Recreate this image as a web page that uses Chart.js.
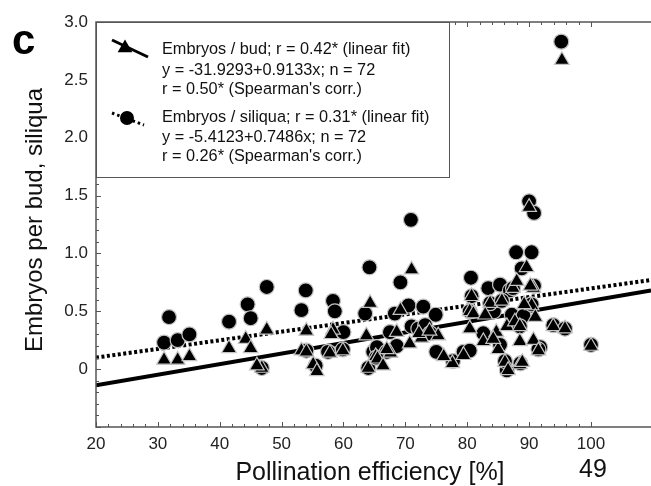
<!DOCTYPE html>
<html>
<head>
<meta charset="utf-8">
<script src="https://cdn.jsdelivr.net/npm/chart.js@4.4.1/dist/chart.umd.min.js"></script>
<style>
  html, body { margin: 0; padding: 0; background: #fff; }
</style>
</head>
<body>
<canvas id="chart" width="651" height="486"></canvas>
<script>
/* Embryos per bud / siliqua vs pollination efficiency (panel c) */

const X_TICKS = [20, 30, 40, 50, 60, 70, 80, 90, 100];
const Y_TICKS = [-0.5, 0, 0.5, 1.0, 1.5, 2.0, 2.5, 3.0];

// embryos per bud (triangles)
const BUD_X = [31.0, 33.2, 35.1, 41.5, 44.2, 45.0, 46.8, 47.6, 54.0, 53.2, 54.0, 55.1, 55.7, 57.8, 58.3,
  59.9, 64.3, 63.7, 65.2, 64.0, 65.5, 67.6, 68.6, 69.2, 71.0, 70.7, 72.6, 75.3, 77.6, 79.4,
  80.7, 80.4, 80.4, 82.6, 83.7, 85.6, 84.7, 86.4, 85.0, 86.1, 86.6, 87.4, 88.0, 87.7, 88.5,
  88.5, 88.5, 89.6, 90.0, 90.7, 90.4, 90.7, 91.5, 93.9, 95.8, 100.0, 95.3,
  72.2, 73.9, 66.4, 81.0, 82.9, 84.2, 89.2, 90.2, 88.9, 76.2, 58.0, 46.0, 67.0, 91.0];
const BUD_Y = [0.08, 0.08, 0.11, 0.18, 0.26, 0.18, 0.01, 0.34, 0.33, 0.16, 0.15, 0.04, -0.02, 0.14, 0.34,
  0.16, 0.57, 0.29, 0.11, 0.01, 0.09, 0.14, 0.32, 0.51, 0.86, 0.22, 0.27, 0.29, 0.05, 0.12,
  0.63, 0.50, 0.35, 0.24, 0.57, 0.59, 0.32, 0.37, 0.17, 0.06, -0.01, 0.70, 0.76, 0.41, 0.37,
  0.24, 0.04, 0.88, 1.40, 0.70, 0.55, 0.25, 0.16, 0.37, 0.35, 0.20, 2.67,
  0.31, 0.33, 0.03, 0.48, 0.47, 0.26, 0.56, 0.72, 0.06, 0.11, 0.30, 0.03, 0.17, 0.45];

// embryos per siliqua (circles)
const SIL_X = [31.8, 31.0, 33.2, 35.1, 41.5, 44.5, 45.0, 46.8, 47.6, 53.9, 53.2, 57.5, 58.3, 58.6, 60.0,
  64.2, 63.5, 64.8, 64.0, 65.4, 67.0, 67.5, 68.3, 69.2, 70.9, 70.5, 72.9, 74.9, 71.0, 72.1,
  73.2, 74.0, 75.0, 77.7, 79.4, 80.6, 80.4, 82.6, 83.4, 85.3, 86.9, 84.3, 85.3, 86.4, 87.2,
  87.9, 90.4, 88.8, 89.1, 90.0, 90.8, 90.8, 91.8, 88.6, 93.9, 95.8, 100.0, 95.2,
  54.0, 55.5, 59.9, 65.3, 68.6, 80.7, 80.4, 83.7, 85.6, 87.4, 88.5, 90.4, 91.5, 86.1];
const SIL_Y = [0.45, 0.23, 0.25, 0.30, 0.41, 0.56, 0.44, 0.01, 0.71, 0.68, 0.51, 0.15, 0.59, 0.50, 0.32,
  0.88, 0.48, 0.15, 0.01, 0.19, 0.15, 0.32, 0.48, 0.75, 1.29, 0.55, 0.54, 0.47, 0.37, 0.35,
  0.38, 0.31, 0.15, 0.07, 0.15, 0.79, 0.16, 0.31, 0.70, 0.73, 0.68, 0.50, 0.21, -0.01, 0.47,
  1.01, 1.01, 0.87, 0.46, 1.45, 1.35, 0.72, 0.19, 0.05, 0.38, 0.35, 0.21, 2.83,
  0.16, 0.03, 0.17, 0.10, 0.20, 0.63, 0.50, 0.57, 0.59, 0.70, 0.37, 0.56, 0.17, 0.07];

// linear fits, end points
const FIT_X = [20, 109.7];
const BUD_FIT_Y = [-0.14, 0.68];
const SIL_FIT_Y = [0.10, 0.77];

const FONT = '"Liberation Sans", Arial, sans-serif';

function pts(xs, ys) {
  return xs.map((x, i) => ({ x, y: ys[i] }));
}

function tri(ctx, cx, cy, r) {
  ctx.beginPath();
  ctx.moveTo(cx, cy - r);
  ctx.lineTo(cx + 0.866 * r, cy + 0.5 * r);
  ctx.lineTo(cx - 0.866 * r, cy + 0.5 * r);
  ctx.closePath();
  ctx.fill();
}

const decor = {
  id: "decor",
  afterDraw(chart) {
    const { ctx, chartArea: a } = chart;
    const x = chart.scales.x, y = chart.scales.y;
    ctx.save();

    // frame: left, bottom and top lines
    ctx.strokeStyle = "#555";
    ctx.lineWidth = 1.5;
    ctx.beginPath();
    ctx.moveTo(a.right, a.top);
    ctx.lineTo(a.left, a.top);
    ctx.lineTo(a.left, a.bottom);
    ctx.lineTo(a.right, a.bottom);
    ctx.stroke();

    // inward ticks
    ctx.lineWidth = 1;
    ctx.beginPath();
    for (let v = 20; v <= 100; v += 2) {
      const px = Math.round(x.getPixelForValue(v)) + 0.5;
      const len = v % 10 === 0 ? 5 : 3;
      ctx.moveTo(px, a.bottom); ctx.lineTo(px, a.bottom - len);
      ctx.moveTo(px, a.top); ctx.lineTo(px, a.top + len);
    }
    for (let i = -5; i <= 30; i++) {
      const py = Math.round(y.getPixelForValue(i / 10)) + 0.5;
      const len = i % 5 === 0 ? 5 : 3;
      ctx.moveTo(a.left, py); ctx.lineTo(a.left + len, py);
    }
    ctx.stroke();

    // legend box
    ctx.strokeStyle = "#555";
    ctx.lineWidth = 1;
    ctx.fillStyle = "#fff";
    ctx.fillRect(a.left, a.top, 353, 155);
    ctx.strokeRect(a.left + 0.5, a.top + 0.5, 353, 155);

    ctx.fillStyle = "#000";
    ctx.strokeStyle = "#000";
    ctx.lineWidth = 3;
    ctx.beginPath();
    ctx.moveTo(112, 40); ctx.lineTo(148, 57);
    ctx.stroke();
    tri(ctx, 125, 48, 8.5);

    ctx.setLineDash([2.5, 3]);
    ctx.beginPath();
    ctx.moveTo(112, 113); ctx.lineTo(144, 125);
    ctx.stroke();
    ctx.setLineDash([]);
    ctx.beginPath();
    ctx.arc(127, 118, 7, 0, Math.PI * 2);
    ctx.fill();

    ctx.fillStyle = "#111";
    ctx.font = "16.3px " + FONT;
    ctx.textBaseline = "middle";
    ctx.textAlign = "left";
    const legendLines = [
      ["Embryos / bud; r = 0.42* (linear fit)", 50],
      ["y = -31.9293+0.9133x; n = 72", 71],
      ["r = 0.50* (Spearman's corr.)", 90],
      ["Embryos / siliqua; r = 0.31* (linear fit)", 118],
      ["y = -5.4123+0.7486x; n = 72", 138],
      ["r = 0.26* (Spearman's corr.)", 157],
    ];
    legendLines.forEach(([t, ly]) => ctx.fillText(t, 162, ly));

    // panel letter
    ctx.fillStyle = "#000";
    ctx.font = "bold 42px " + FONT;
    ctx.textBaseline = "alphabetic";
    ctx.fillText("c", 12, 54);

    // axis titles
    ctx.fillStyle = "#111";
    ctx.font = "25px " + FONT;
    ctx.textAlign = "center";
    ctx.textBaseline = "middle";
    ctx.fillText("Pollination efficiency [%]", 370, 473);
    ctx.save();
    ctx.translate(35, 220);
    ctx.rotate(-Math.PI / 2);
    ctx.font = "24px " + FONT;
    ctx.fillText("Embryos per bud, siliqua", 0, 0);
    ctx.restore();

    ctx.font = "25px " + FONT;
    ctx.fillText("49", 593, 470);

    ctx.restore();
  },
};

new Chart(document.getElementById("chart"), {
  type: "scatter",
  data: {
    datasets: [
      {
        label: "Embryos / bud",
        data: pts(BUD_X, BUD_Y),
        pointStyle: "triangle",
        pointRadius: 8.5,
        backgroundColor: "#000",
        borderColor: "#c4c4c4",
        borderWidth: 1.2,
        order: 1,
      },
      {
        label: "Embryos / siliqua",
        data: pts(SIL_X, SIL_Y),
        pointStyle: "circle",
        pointRadius: 7.5,
        backgroundColor: "#000",
        borderColor: "#c4c4c4",
        borderWidth: 1.2,
        order: 2,
      },
      {
        type: "line",
        label: "bud fit",
        data: pts(FIT_X, BUD_FIT_Y),
        borderColor: "#000",
        borderWidth: 4,
        pointRadius: 0,
        order: 3,
      },
      {
        type: "line",
        label: "siliqua fit",
        data: pts(FIT_X, SIL_FIT_Y),
        borderColor: "#000",
        borderWidth: 4,
        borderDash: [3, 2.5],
        pointRadius: 0,
        order: 4,
      },
    ],
  },
  options: {
    responsive: false,
    animation: false,
    devicePixelRatio: 1,
    layout: { autoPadding: false, padding: { top: 22, right: 0, left: 0, bottom: 0 } },
    plugins: { legend: { display: false }, tooltip: { enabled: false } },
    scales: {
      x: {
        type: "linear",
        min: 20,
        max: 109.7,
        afterBuildTicks: (s) => { s.ticks = X_TICKS.map((v) => ({ value: v })); },
        afterFit: (s) => { s.height = 59; s.paddingLeft = 0; s.paddingRight = 0; },
        grid: { display: false, drawTicks: false },
        border: { display: false },
        ticks: { font: { size: 17, family: FONT }, color: "#222", padding: 7, maxRotation: 0, autoSkip: false },
      },
      y: {
        min: -0.5,
        max: 3.0,
        afterBuildTicks: (s) => { s.ticks = Y_TICKS.map((v) => ({ value: v })); },
        afterFit: (s) => { s.width = 96; s.paddingTop = 0; s.paddingBottom = 0; },
        grid: { display: false, drawTicks: false },
        border: { display: false },
        ticks: {
          font: { size: 17, family: FONT },
          color: "#222",
          padding: 8,
          callback: (v) => (v < 0 ? "" : v === 0 ? "0" : v.toFixed(1)),
        },
      },
    },
  },
  plugins: [decor],
});
</script>
</body>
</html>
